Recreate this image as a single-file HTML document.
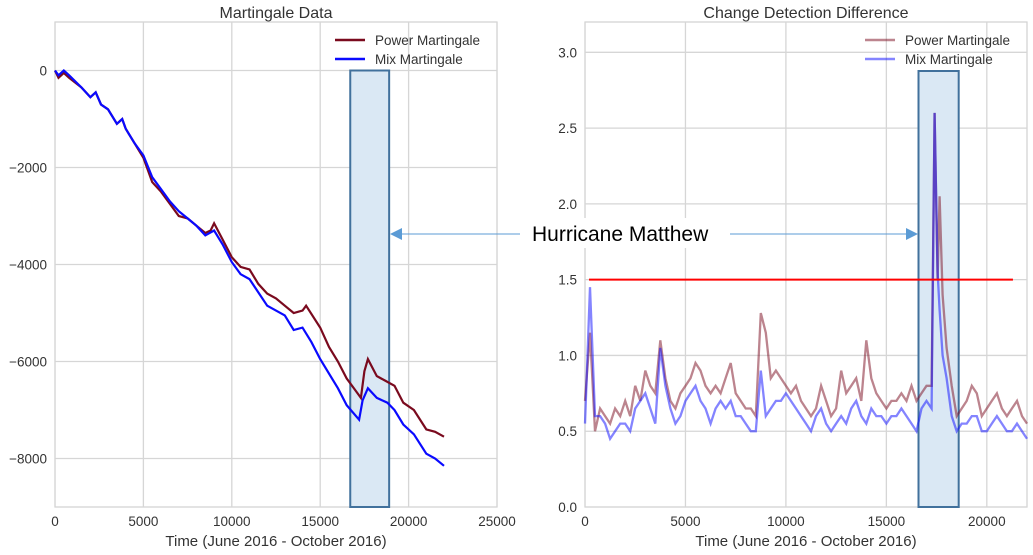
<!DOCTYPE html>
<html><head><meta charset="utf-8">
<style>
html,body{margin:0;padding:0;background:#fff;}
svg{display:block;font-family:"Liberation Sans",Arial,sans-serif;}
</style></head>
<body>
<svg id="root" width="1033" height="555" viewBox="0 0 1033 555" xmlns="http://www.w3.org/2000/svg"></svg>
<script>
// ---- Left chart data ----
const leftPowerT = [0,200,500,800,1500,2000,2300,2600,3000,3500,3800,4000,4500,5000,5500,6000,6500,7000,7500,8000,8500,8800,9000,9500,10000,10500,11000,11500,12000,12500,13000,13500,14000,14200,15000,15500,16000,16500,17000,17300,17500,17700,18200,18700,19200,19700,20300,21000,21500,22000];
const leftPowerV = [0,-150,-50,-150,-350,-550,-450,-700,-800,-1100,-1000,-1200,-1500,-1800,-2300,-2500,-2750,-3000,-3050,-3200,-3350,-3300,-3150,-3500,-3850,-4050,-4100,-4400,-4600,-4700,-4850,-5000,-4950,-4850,-5300,-5700,-6000,-6350,-6600,-6750,-6200,-5950,-6300,-6400,-6500,-6850,-7000,-7400,-7450,-7550];
const leftMixT = [0,200,500,800,1500,2000,2300,2600,3000,3500,3800,4000,4500,5000,5500,6000,6500,7000,7500,8000,8500,9000,9500,10000,10500,11000,12000,12500,13000,13500,14000,14500,15000,16000,16500,17200,17400,17700,18200,18800,19200,19700,20300,21000,21500,22000];
const leftMixV = [0,-100,0,-100,-350,-550,-450,-700,-800,-1100,-1000,-1200,-1500,-1750,-2200,-2450,-2700,-2900,-3050,-3200,-3400,-3300,-3600,-3950,-4200,-4300,-4850,-4950,-5050,-5350,-5300,-5600,-5950,-6550,-6900,-7200,-6800,-6550,-6750,-6850,-7000,-7300,-7500,-7900,-8000,-8150];
const leftXTicks = [0,5000,10000,15000,20000,25000];
const leftYTicks = [0,-2000,-4000,-6000,-8000];

// ---- Right chart data ----
const rightT = [0,250,500,750,1000,1250,1500,1750,2000,2250,2500,2750,3000,3250,3500,3750,4000,4250,4500,4750,5000,5250,5500,5750,6000,6250,6500,6750,7000,7250,7500,7750,8000,8250,8500,8750,9000,9250,9500,9750,10000,10250,10500,10750,11000,11250,11500,11750,12000,12250,12500,12750,13000,13250,13500,13750,14000,14250,14500,14750,15000,15250,15500,15750,16000,16250,16500,16750,17000,17250,17400,17550,17650,17800,18000,18250,18500,18750,19000,19250,19500,19750,20000,20250,20500,20750,21000,21250,21500,21750,22000];
const rightPowerV = [0.7,1.15,0.5,0.65,0.6,0.55,0.65,0.6,0.7,0.6,0.8,0.7,0.9,0.8,0.75,1.1,0.85,0.7,0.65,0.75,0.8,0.85,0.95,0.9,0.8,0.75,0.8,0.75,0.85,0.95,0.75,0.7,0.65,0.65,0.6,1.28,1.15,0.85,0.9,0.85,0.8,0.75,0.8,0.7,0.65,0.6,0.65,0.8,0.7,0.6,0.65,0.9,0.75,0.8,0.85,0.7,1.1,0.85,0.75,0.7,0.65,0.7,0.7,0.75,0.7,0.8,0.7,0.75,0.8,0.8,2.6,1.5,2.05,1.4,1.05,0.8,0.6,0.65,0.7,0.8,0.75,0.6,0.65,0.7,0.75,0.65,0.6,0.65,0.7,0.6,0.55];
const rightMixV = [0.55,1.45,0.6,0.6,0.55,0.45,0.5,0.55,0.55,0.5,0.65,0.7,0.75,0.65,0.55,1.05,0.8,0.65,0.55,0.6,0.7,0.75,0.8,0.7,0.65,0.55,0.65,0.7,0.65,0.7,0.6,0.6,0.55,0.5,0.5,0.9,0.6,0.65,0.7,0.7,0.75,0.7,0.65,0.6,0.55,0.5,0.6,0.65,0.55,0.5,0.55,0.6,0.55,0.65,0.7,0.6,0.55,0.65,0.6,0.6,0.55,0.6,0.6,0.65,0.6,0.55,0.5,0.65,0.7,0.65,2.6,1.55,1.3,1.0,0.85,0.6,0.5,0.55,0.55,0.6,0.6,0.5,0.5,0.55,0.6,0.55,0.5,0.5,0.55,0.5,0.45];
const rightXTicks = [0,5000,10000,15000,20000];
const rightYTicks = [0.0,0.5,1.0,1.5,2.0,2.5,3.0];
const thresholdValue = 1.5;
const thresholdRange = [200,21300];
const highlightRange = [16600,18600];

const NS = "http://www.w3.org/2000/svg";
const root = document.getElementById('root');
function mk(tag, attrs, parent, text){
  const e = document.createElementNS(NS, tag);
  for (const k in attrs) e.setAttribute(k, attrs[k]);
  if (text !== undefined) e.textContent = text;
  (parent||root).appendChild(e);
  return e;
}
function lin(d0,d1,r0,r1){ return v => r0 + (v-d0)/(d1-d0)*(r1-r0); }

const L = {x0:55,x1:497,y0:22,y1:507};
const lx = lin(0,25000,L.x0,L.x1);
const ly = lin(1000,-9000,L.y0,L.y1);
const R = {x0:585,x1:1027,y0:22,y1:507};
const rx = lin(0,22000,R.x0,R.x1);
const ry = lin(3.2,0,R.y0,R.y1);

function frame(P, name){
  const g = mk('g',{});
  
  
  mk('rect',{x:P.x0,y:P.y0,width:P.x1-P.x0,height:P.y1-P.y0,fill:'#fff',stroke:'#d0d0d0','stroke-width':1.2},g);
  return g;
}
function gridAndTicks(g, P, xs, ys, xf, yf, xfmt, yfmt){
  xs.forEach(v=>{
    const x = xf(v);
    const l = mk('line',{x1:x,x2:x,y1:P.y0,y2:P.y1,stroke:'#d6d6d6','stroke-width':1.3},g);
    
    
    const t = mk('text',{x:x,y:P.y1+19,'text-anchor':'middle','font-size':13.5,fill:'#333'},g,xfmt(v));
    
    
  });
  ys.forEach(v=>{
    const y = yf(v);
    const l = mk('line',{x1:P.x0,x2:P.x1,y1:y,y2:y,stroke:'#d6d6d6','stroke-width':1.3},g);
    
    
    const t = mk('text',{x:P.x0-8,y:y+5,'text-anchor':'end','font-size':13.5,fill:'#333'},g,yfmt(v));
    
    
  });
}
function pathFrom(ts, vs, xf, yf){
  return ts.map((t,i)=>(i?'L':'M')+xf(t).toFixed(1)+','+yf(vs[i]).toFixed(1)).join(' ');
}

// ---- Left chart ----
const gL = frame(L,'martingale-data-chart');
gridAndTicks(gL, L, leftXTicks, leftYTicks, lx, ly, v=>String(v), v=>v<0?'\u2212'+Math.abs(v):String(v));
const hl = mk('rect',{x:lx(16700),y:ly(0),width:lx(18900)-lx(16700),height:L.y1-ly(0),fill:'#dae8f4',stroke:'#41719c','stroke-width':2},gL);


const pl = mk('path',{d:pathFrom(leftPowerT,leftPowerV,lx,ly),fill:'none',stroke:'#7a0a1e','stroke-width':2.2},gL);


const ml = mk('path',{d:pathFrom(leftMixT,leftMixV,lx,ly),fill:'none',stroke:'#0a0aff','stroke-width':2.2},gL);


const tL = mk('text',{x:276,y:18,'text-anchor':'middle','font-size':16,fill:'#333'},gL,'Martingale Data');


const xlL = mk('text',{x:276,y:546,'text-anchor':'middle','font-size':15,fill:'#333'},gL,'Time (June 2016 - October 2016)');


const lgL = mk('g',{},gL);


mk('line',{x1:335,x2:365,y1:40,y2:40,stroke:'#7a0a1e','stroke-width':2.5},lgL);
mk('text',{x:375,y:45,'font-size':13.5,fill:'#333'},lgL,'Power Martingale');
mk('line',{x1:335,x2:365,y1:59,y2:59,stroke:'#0a0aff','stroke-width':2.5},lgL);
mk('text',{x:375,y:64,'font-size':13.5,fill:'#333'},lgL,'Mix Martingale');

// ---- Right chart ----
const gR = frame(R,'change-detection-chart');
gridAndTicks(gR, R, rightXTicks, rightYTicks, rx, ry, v=>String(v), v=>v.toFixed(1));
const hr = mk('rect',{x:rx(highlightRange[0]),y:71,width:rx(highlightRange[1])-rx(highlightRange[0]),height:R.y1-71,fill:'#dae8f4',stroke:'#41719c','stroke-width':2},gR);


const pr = mk('path',{d:pathFrom(rightT,rightPowerV,rx,ry),fill:'none',stroke:'#7a0a1e','stroke-opacity':0.5,'stroke-width':2.3},gR);


const mr = mk('path',{d:pathFrom(rightT,rightMixV,rx,ry),fill:'none',stroke:'#0a0aff','stroke-opacity':0.5,'stroke-width':2.3},gR);


const th = mk('line',{x1:rx(thresholdRange[0]),x2:rx(thresholdRange[1]),y1:ry(thresholdValue),y2:ry(thresholdValue),stroke:'#ff0000','stroke-width':2},gR);


const tR = mk('text',{x:806,y:18,'text-anchor':'middle','font-size':16,fill:'#333'},gR,'Change Detection Difference');


const xlR = mk('text',{x:806,y:546,'text-anchor':'middle','font-size':15,fill:'#333'},gR,'Time (June 2016 - October 2016)');


const lgR = mk('g',{},gR);


mk('line',{x1:865,x2:895,y1:40,y2:40,stroke:'#7a0a1e','stroke-opacity':0.5,'stroke-width':2.5},lgR);
mk('text',{x:905,y:45,'font-size':13.5,fill:'#333'},lgR,'Power Martingale');
mk('line',{x1:865,x2:895,y1:59,y2:59,stroke:'#0a0aff','stroke-opacity':0.5,'stroke-width':2.5},lgR);
mk('text',{x:905,y:64,'font-size':13.5,fill:'#333'},lgR,'Mix Martingale');

// ---- Annotation ----
const ann = mk('g',{});


mk('rect',{x:522,y:218,width:200,height:30,fill:'#fff'},ann);
const at = mk('text',{x:532,y:241,'font-size':21,fill:'#000'},ann,'Hurricane Matthew');


mk('line',{x1:520,x2:400,y1:234,y2:234,stroke:'#5b9bd5','stroke-width':1},ann);
mk('polygon',{points:'390,234 402,228 402,240',fill:'#5b9bd5'},ann);
mk('line',{x1:730,x2:908,y1:234,y2:234,stroke:'#5b9bd5','stroke-width':1},ann);
mk('polygon',{points:'918,234 906,228 906,240',fill:'#5b9bd5'},ann);
</script>
</body></html>
